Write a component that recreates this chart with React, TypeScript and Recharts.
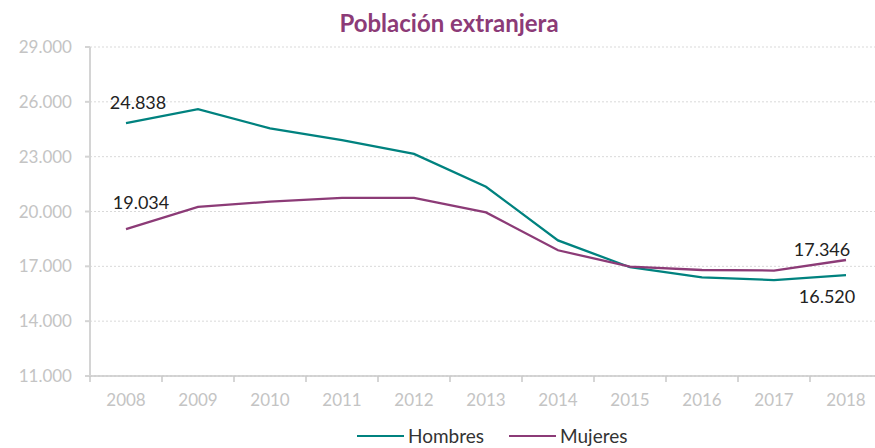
import { LineChart, Line, CartesianGrid, XAxis, YAxis, Legend, LabelList } from 'recharts';

const years = ['2008', '2009', '2010', '2011', '2012', '2013', '2014', '2015', '2016', '2017', '2018'];
const hombres = [24838, 25600, 24550, 23900, 23150, 21350, 18420, 16950, 16400, 16250, 16520];
const mujeres = [19034, 20250, 20540, 20740, 20750, 19950, 17880, 16980, 16800, 16770, 17346];
const yTicks = [11000, 14000, 17000, 20000, 23000, 26000, 29000];

const TEAL = '#00827F';
const PURPLE = '#8C3B77';
const FONT = 'Lato, "Open Sans", sans-serif';

const data = years.map((year, i) => ({ year, hombres: hombres[i], mujeres: mujeres[i] }));

const fmt = (v: number) => String(v).replace(/\B(?=(\d{3})+(?!\d))/g, '.');

// offsets of the first / last value labels, relative to the point
const labelOffsets: Record<string, Record<number, [number, number]>> = {
  hombres: { 0: [12, -14], 10: [-19, 28] },
  mujeres: { 0: [15, -20], 10: [-24, -4] },
};

const makeLabel = (key: string) => (props: any) => {
  const { x, y, index, value } = props;
  const off = labelOffsets[key][index];
  if (!off) return null;
  return (
    <text x={x + off[0]} y={y + off[1]} textAnchor="middle" fontSize={18} fill="#222" fontFamily={FONT}>
      {fmt(value)}
    </text>
  );
};

const XTick = (props: any) => {
  const { x, y, payload } = props;
  return (
    <g>
      <line x1={x - 36} x2={x - 36} y1={y} y2={y + 6} stroke="#C8C8C8" strokeWidth={1.5} />
      <text x={x} y={y + 30} textAnchor="middle" fontSize={17} fill="#C4C4C4" fontFamily={FONT}>
        {payload.value}
      </text>
    </g>
  );
};

const renderLegend = () => (
  <div style={{ display: 'flex', alignItems: 'center', fontFamily: FONT, fontSize: 19, lineHeight: '18px', color: '#333', height: 18 }}>
    {[['Hombres', TEAL], ['Mujeres', PURPLE]].map(([name, color]) => (
      <div key={name} style={{ display: 'flex', alignItems: 'center', marginRight: 25 }}>
        <span style={{ display: 'inline-block', width: 47, height: 2.5, background: color, marginRight: 4 }} />
        <span>{name}</span>
      </div>
    ))}
  </div>
);

export default function App() {
  return (
    <div style={{ position: 'absolute', top: 0, left: 0, width: 875, height: 448, overflow: 'hidden', background: '#fff' }}>
      <div
        style={{
          position: 'absolute',
          top: 8,
          left: 0,
          width: 898,
          textAlign: 'center',
          fontFamily: FONT,
          fontWeight: 700,
          fontSize: 24,
          color: PURPLE,
          zIndex: 1,
        }}
      >
        Población extranjera
      </div>
      <LineChart width={884} height={448} data={data} margin={{ top: 47, right: 2, left: 0, bottom: 0 }}>
        <CartesianGrid vertical={false} stroke="#D9D9D9" strokeDasharray="2 2" />
        <XAxis
          dataKey="year"
          stroke="#C8C8C8"
          strokeWidth={1.5}
          tickLine={false}
          tickSize={0}
          tickMargin={0}
          height={54}
          padding={{ left: 36, right: 36 }}
          tick={<XTick />}
          interval={0}
        />
        <YAxis
          domain={[11000, 29000]}
          ticks={yTicks}
          width={90}
          stroke="#D4D4D4"
          strokeWidth={2}
          tickSize={5}
          tickMargin={13}
          tickFormatter={fmt}
          tick={{ fontSize: 17, fill: '#C4C4C4', fontFamily: FONT }}
        />
        <Legend
          verticalAlign="bottom"
          height={18}
          content={renderLegend}
          wrapperStyle={{ top: 427, bottom: 'auto', left: 357, width: 'auto' }}
        />
        <Line type="linear" dataKey="hombres" name="Hombres" stroke={TEAL} strokeWidth={2.3} dot={false} isAnimationActive={false}>
          <LabelList dataKey="hombres" content={makeLabel('hombres')} />
        </Line>
        <Line type="linear" dataKey="mujeres" name="Mujeres" stroke={PURPLE} strokeWidth={2.3} dot={false} isAnimationActive={false}>
          <LabelList dataKey="mujeres" content={makeLabel('mujeres')} />
        </Line>
      </LineChart>
    </div>
  );
}
